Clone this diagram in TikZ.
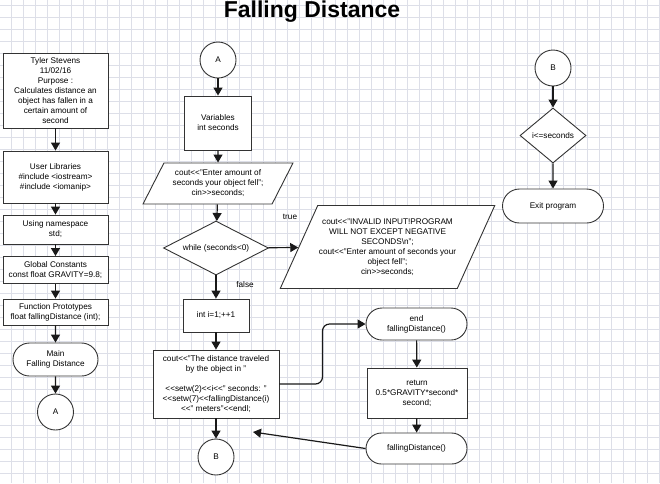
\documentclass[tikz,border=0pt]{standalone}
\usepackage{fontspec}
\setmainfont{Liberation Sans}
\usetikzlibrary{shapes.geometric,shapes.misc,arrows.meta,calc,positioning}

\begin{document}
\begin{tikzpicture}[x=1pt,y=-1pt,
	box/.style={rectangle,draw=black!80,line width=0.9pt,fill=white,inner sep=0pt,align=center,font=\fontsize{8.2}{10}\selectfont},
	term/.style={box,rounded rectangle},
	conn/.style={box,circle,minimum size=36pt},
	decide/.style={box,diamond,aspect=2},
	io/.style={box,trapezium,trapezium left angle=57,trapezium right angle=123,trapezium stretches=true},
	flow/.style={draw=black!90,line width=1.2pt,-{Triangle[width=9pt,length=8pt]}},
	note/.style={font=\fontsize{8.2}{10}\selectfont,inner sep=0pt},
	gridline/.style={draw={rgb,255:red,221;green,223;blue,232},line width=0.5pt}]

	 % page and grid
	 \useasboundingbox (0,0) rectangle (660,483);
	 \fill[white] (0,0) rectangle (660,483);
	 \foreach \gx in {11,23,...,659} \draw[gridline] (\gx,0) -- (\gx,483);
	 \foreach \gy in {5,17,...,483} \draw[gridline] (0,\gy) -- (660,\gy);

	 \node at (312,17) [anchor=base,inner sep=0pt,font=\fontsize{23}{23}\selectfont\bfseries] (title) {Falling Distance};

	 % main program
	 \node at (55.5,90.5) [box,minimum width=105pt,minimum height=75pt] (header) {Tyler Stevens\\11/02/16\\Purpose :\\Calculates distance an\\object has fallen in a\\certain amount of\\second};
	 \node at (55.5,177) [box,minimum width=105pt,minimum height=52pt] (libs) {User Libraries\\\#include <iostream>\\\#include <iomanip>};
	 \node at (55.5,229.5) [box,minimum width=105pt,minimum height=29pt] (names) {Using namespace\\std;};
	 \node at (55.5,270) [box,minimum width=105pt,minimum height=27pt] (consts) {Global Constants\\const float GRAVITY=9.8;};
	 \node at (55.5,312) [box,minimum width=105pt,minimum height=26pt] (protos) {Function Prototypes\\float fallingDistance (int);};
	 \node at (55.5,359.5) [term,minimum width=85pt,minimum height=33pt] (main) {Main\\Falling Distance};
	 \node at (55.5,412) [conn] (toA) {A};

	 \node at (218,60) [conn] (fromA) {A};
	 \node at (218,123) [box,minimum width=67pt,minimum height=54pt] (vars) {Variables\\int seconds};
	 \node at (218,183.5) [io,minimum width=150pt,minimum height=41pt] (askin) {cout<{}<"Enter amount of\\seconds your object fell";\\cin>{}>seconds;};
	 \node at (216,248) [decide,minimum width=105pt,minimum height=54pt] (check) {while (seconds<0)};
	 \node at (387.5,247) [io,minimum width=215pt,minimum height=83pt] (invalid) {cout<{}<"INVALID INPUT!PROGRAM\\WILL NOT EXCEPT NEGATIVE\\SECONDS\textbackslash n";\\cout<{}<"Enter amount of seconds your\\object fell";\\cin>{}>seconds;};
	 \node at (290,217) [note] (ltrue) {true};
	 \node at (245,285) [note] (lfalse) {false};
	 \node at (216,315.5) [box,minimum width=66pt,minimum height=33pt] (loop) {int i=1;++1};
	 \node at (216,384) [box,minimum width=126pt,minimum height=68pt] (show) {cout<{}<"The distance traveled\\by the object in "\\[10pt]<{}<setw(2)<{}<i<{}<" seconds: "\\<{}<setw(7)<{}<fallingDistance(i)\\<{}<" meters"<{}<endl;};
	 \node at (216,457) [conn] (toB) {B};

	 % function
	 \node at (416.5,324) [term,minimum width=101pt,minimum height=32pt] (endfd) {end\\fallingDistance()};
	 \node at (417,393) [box,minimum width=100pt,minimum height=50pt] (retbox) {return\\0.5*GRAVITY*second*\\second;};
	 \node at (416.5,448.5) [term,minimum width=101pt,minimum height=31pt] (fdcall) {fallingDistance()};
	 \coordinate (back) at (253,432);

	 \node at (553,68) [conn] (fromB) {B};
	 \node at (553,135.5) [decide,minimum width=66pt,minimum height=55pt] (test) {i<=seconds};
	 \node at (553,206) [term,minimum width=101pt,minimum height=34pt] (exitp) {Exit program};

	 \draw[flow] (header) -- (libs);
	 \draw[flow] (libs) -- (names);
	 \draw[flow] (names) -- (consts);
	 \draw[flow] (consts) -- (protos);
	 \draw[flow] (protos) -- (main);
	 \draw[flow] (main) -- (toA);

	 \draw[flow] (fromA) -- (vars);
	 \draw[flow] (vars) -- (askin);
	 \draw[flow] (askin) -- (check);
	 \draw[flow] (check) -- (invalid);
	 \draw[flow] (check) -- (loop);
	 \draw[flow] (loop) -- (show);
	 \draw[flow] (show) -- (toB);
	 \draw[flow,rounded corners=7pt] (show.east) -| ($(show.east)!0.5!(endfd.west)$) |- (endfd.west);
	 \draw[flow] (endfd) -- (retbox);
	 \draw[flow] (retbox) -- (fdcall);
	 \draw[flow] (fdcall.west) -- (back);

	 \draw[flow] (fromB) -- (test);
	 \draw[flow] (test) -- (exitp);
\end{tikzpicture}
\end{document}
